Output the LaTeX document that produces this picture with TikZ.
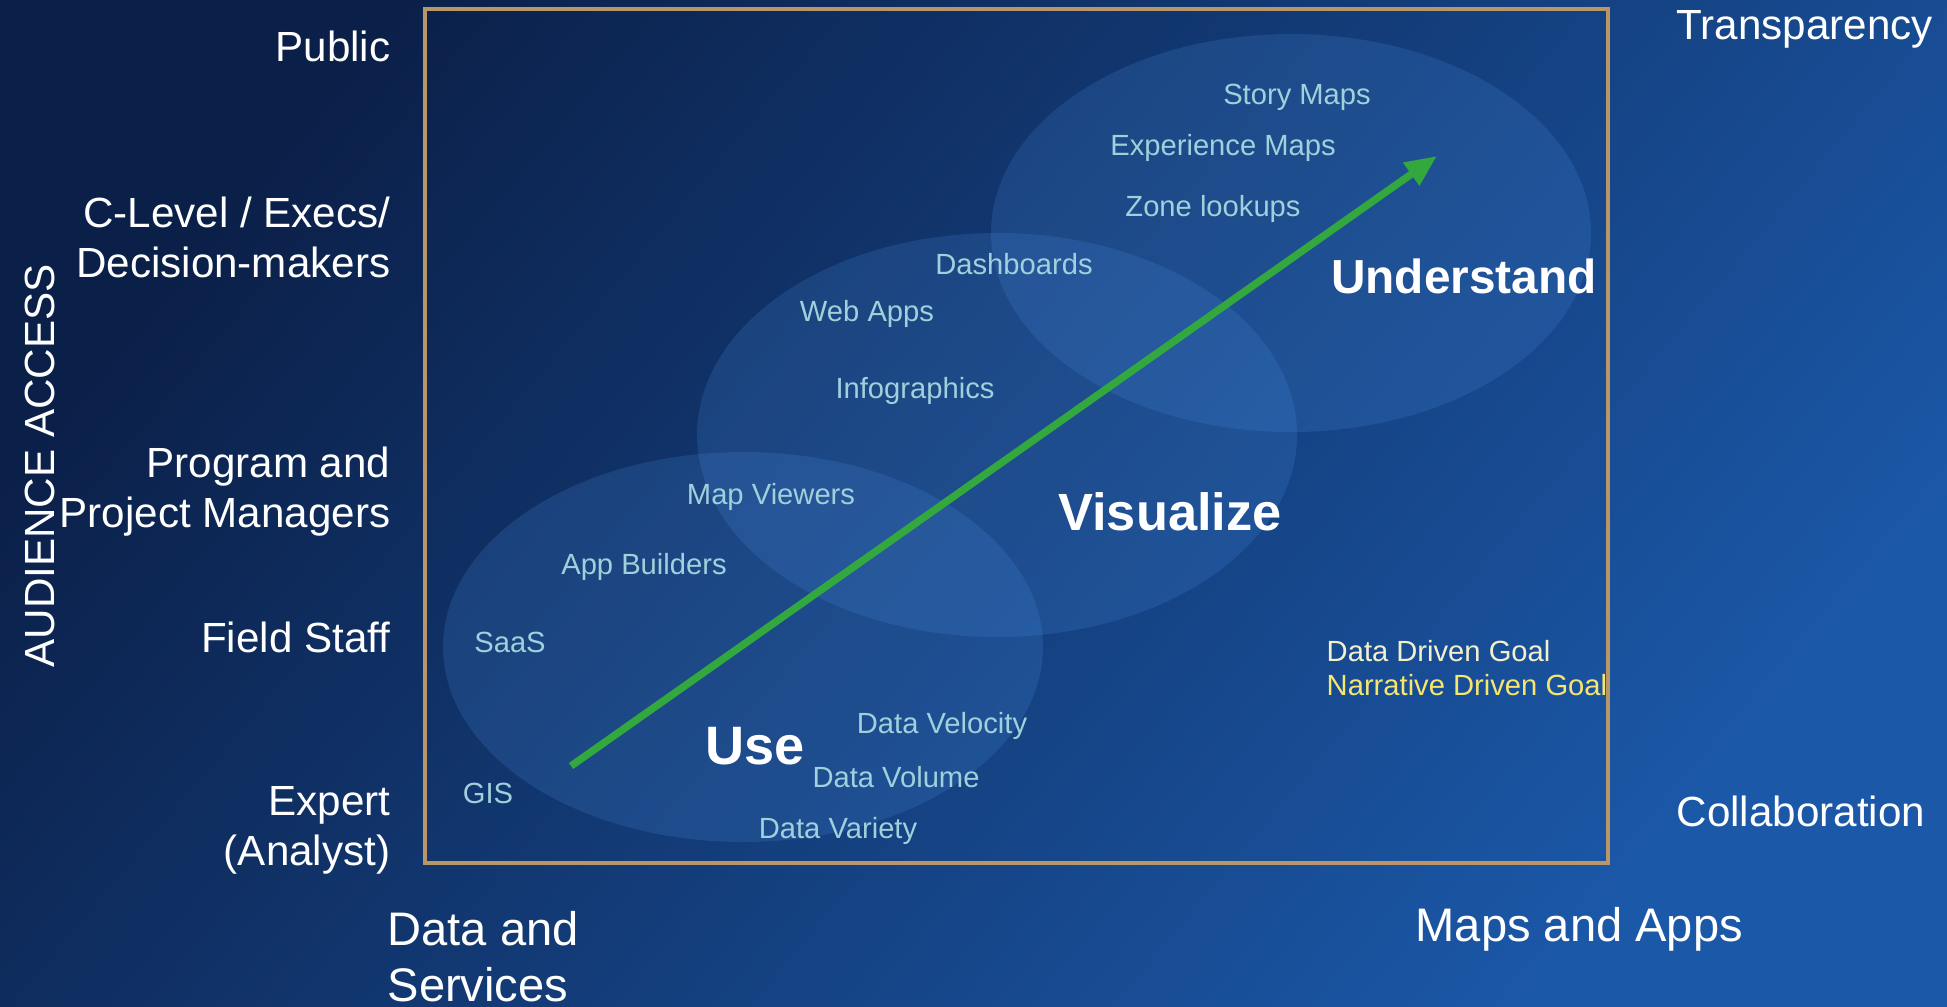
\documentclass[tikz,border=0pt]{standalone}
\usepackage{fontspec}
\setmainfont{Liberation Sans}
\usetikzlibrary{arrows.meta}
\definecolor{bgdark}{HTML}{0B2049}
\definecolor{bglight}{HTML}{1B58A8}
\definecolor{bubblefill}{RGB}{74,141,222}
\definecolor{framecol}{HTML}{B8966A}
\definecolor{itemcol}{HTML}{9FD0DC}
\definecolor{arrowgreen}{HTML}{33A83F}
\definecolor{datacol}{HTML}{F4F0CC}
\definecolor{narrcol}{HTML}{F6E66C}

\begin{document}
\begin{tikzpicture}[x=0.1mm,y=-0.1mm]
\tikzset{bubble/.style={fill=bubblefill, fill opacity=0.2}}
\tikzset{frame/.style={draw=framecol, line width=1.4pt}}
\tikzset{audience/.style={text=white, anchor=east, align=right, inner sep=0pt, font=\fontsize{12}{14.2}\selectfont}}
\tikzset{axislabel/.style={text=white, align=left, inner sep=0pt, font=\fontsize{13.4}{16}\selectfont}}
\tikzset{item/.style={text=itemcol, inner sep=0pt, font=\fontsize{8.3}{10}\selectfont}}
\tikzset{stage/.style={text=white, inner sep=0pt, font=\bfseries}}
\useasboundingbox (0,0) rectangle (1947,1006);
% background
\shade[left color=bgdark, right color=bglight, shading angle=50] (0,0) rectangle (1947,1006);
% the three stages
\fill[bubble] (743,647) ellipse [x radius=300, y radius=195];
\fill[bubble] (997,435) ellipse [x radius=300, y radius=202];
\fill[bubble] (1291,233) ellipse [x radius=300, y radius=199];
\draw[frame] (425,9) rectangle (1608,863);
% audience levels
\node[audience] (public) at (391,46) {Public};
\node[audience] (execs) at (391,237) {C-Level / Execs/\\Decision-makers};
\node[audience] (managers) at (391,492) {Program and\\Project Managers};
\node[audience] (staff) at (391,637) {Field Staff};
\node[audience] (expert) at (391,830) {Expert\\(Analyst)};
\node[text=white, rotate=90, inner sep=0pt, font=\fontsize{12}{14}\selectfont] (access) at (40,466) {AUDIENCE ACCESS};
\node[text=white, anchor=west, inner sep=0pt, font=\fontsize{12}{14}\selectfont] (transp) at (1676,29) {Transparency};
\node[text=white, anchor=west, inner sep=0pt, font=\fontsize{12}{14}\selectfont] (collab) at (1676,811) {Collaboration};
\node[axislabel, anchor=west] (datasvc) at (387,957) {Data and\\Services};
\node[axislabel, anchor=west] (mapsapps) at (1415,929) {Maps and Apps};
% items
\node[item] (story) at (1297,97) {Story Maps};
\node[item] (experience) at (1223,148) {Experience Maps};
\node[item] (zone) at (1213,209) {Zone lookups};
\node[item] (dash) at (1014,264) {Dashboards};
\node[item] (webapps) at (867,314) {Web Apps};
\node[item] (infogr) at (915,391) {Infographics};
\node[item] (viewers) at (771,497) {Map Viewers};
\node[item] (builders) at (644,567) {App Builders};
\node[item] (saas) at (510,642) {SaaS};
\node[item] (gis) at (488,793) {GIS};
\node[item] (velocity) at (942,726) {Data Velocity};
\node[item] (volume) at (896,777) {Data Volume};
\node[item] (variety) at (838,831) {Data Variety};
\node[item, text=datacol, anchor=west] (datagoal) at (1326,651) {Data Driven Goal};
\node[item, text=narrcol, anchor=west] (narrgoal) at (1326,685) {Narrative Driven Goal};
% stages
\node[stage, font=\fontsize{15.4}{18}\selectfont\bfseries] (use) at (755,746) {Use};
\node[stage, font=\fontsize{14.9}{18}\selectfont\bfseries] (visualize) at (1170,512) {Visualize};
\node[stage, font=\fontsize{13.6}{16}\selectfont\bfseries] (understand) at (1464,276) {Understand};
% growth arrow
\coordinate (start) at (571,766);
\coordinate (tip) at (1437,156);
\draw[arrowgreen, line width=2.1pt, -{Triangle[length=9pt, width=7.5pt]}] (start) -- (tip);
\end{tikzpicture}
\end{document}
